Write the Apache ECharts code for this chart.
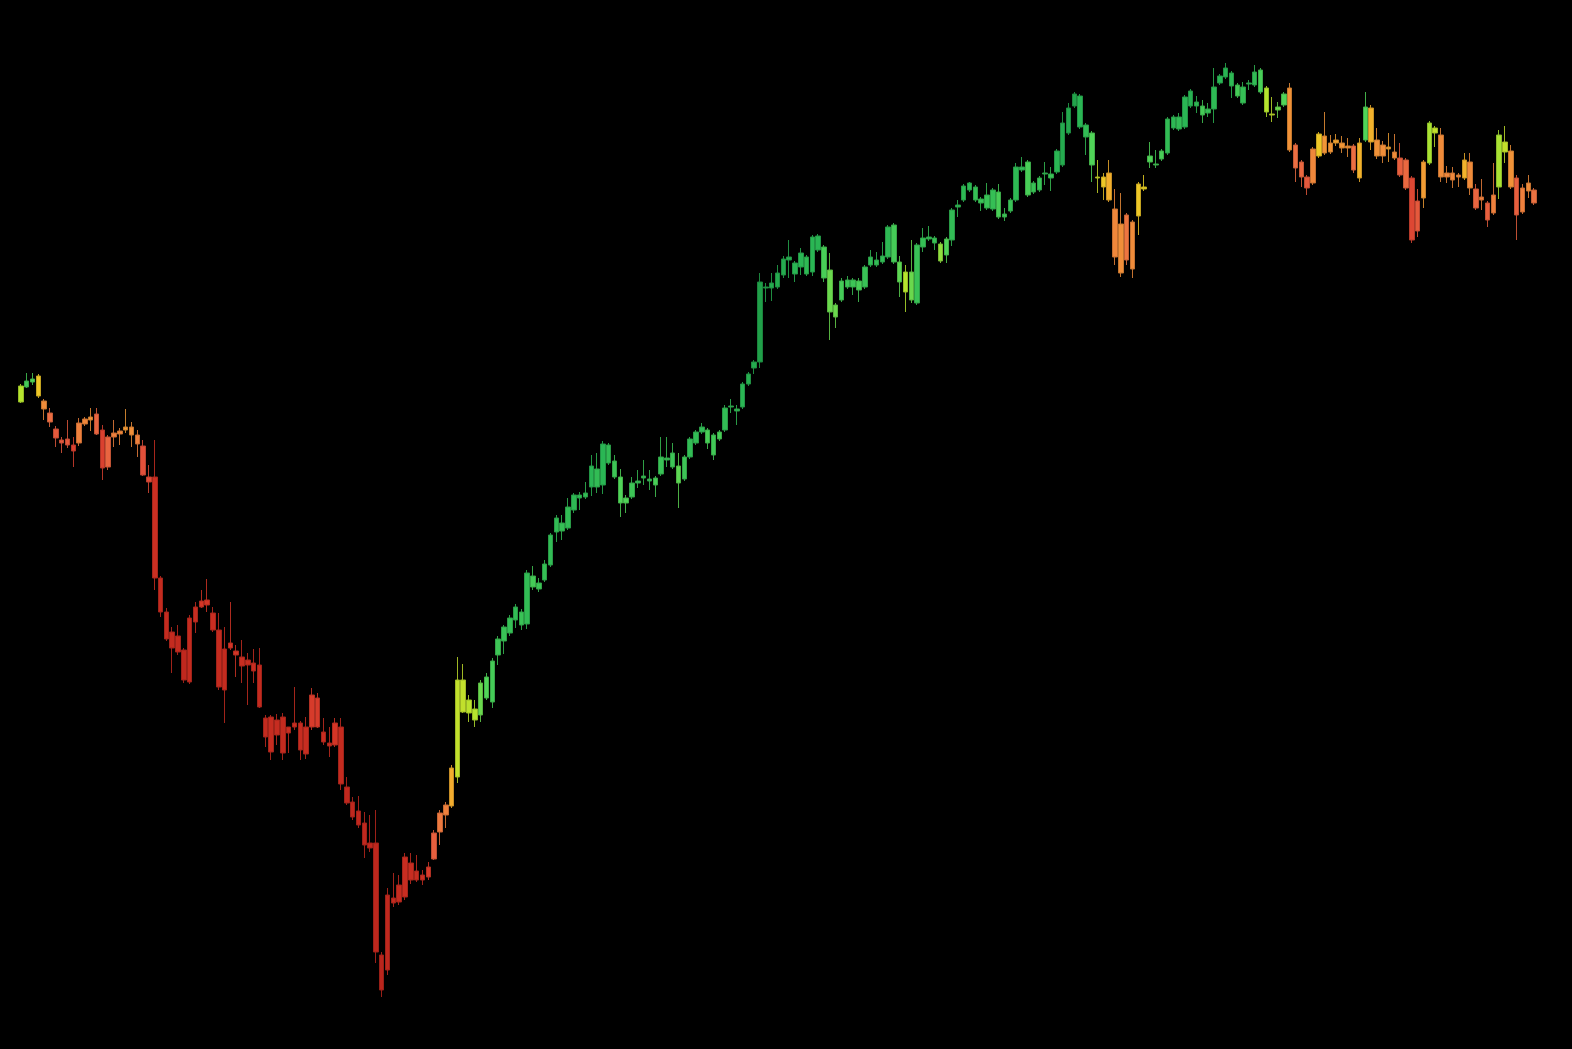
<!DOCTYPE html>
<html>
<head>
<meta charset="utf-8">
<script src="https://cdn.jsdelivr.net/npm/echarts@6/dist/echarts.min.js"></script>
<style>
html,body{margin:0;padding:0;background:#000;}
#chart{width:1572px;height:1049px;}
</style>
</head>
<body>
<div id="chart"></div>
<script>
const open = [698,713,718,724,699,687,671,660,655,655,657,676,680,686,670,633,663,666,670,673,665,654,623,623,522,488,468,448,450,418,478,493,500,487,470,410,452,449,443,435,437,435,382,348,380,383,367,373,377,346,373,402,368,357,355,373,313,298,289,277,257,257,145,130,202,198,203,237,220,225,223,241,268,285,294,323,420,400,380,385,402,398,445,459,467,480,488,476,524,517,520,535,568,577,572,590,605,603,613,631,615,655,639,623,597,603,617,622,621,622,626,640,647,634,621,643,657,668,670,665,661,670,693,691,693,716,732,738,813,812,813,825,843,837,833,843,828,850,853,830,795,800,813,820,819,813,835,840,838,843,875,838,828,828,797,853,861,862,856,845,860,893,900,910,913,901,892,891,908,886,889,900,933,938,908,910,926,926,928,935,967,994,1004,975,967,923,923,927,891,876,840,878,884,913,938,936,941,947,972,983,973,994,998,994,987,991,1017,1023,1027,1015,997,1017,1015,1030,1012,986,990,995,1012,955,938,923,917,944,964,957,957,957,954,954,922,960,992,960,955,953,948,942,940,922,869,902,937,967,965,927,927,925,922,938,911,903,897,887,913,958,949,922,888,909,910];
const close = [714,719,721,704,691,678,662,657,661,649,677,681,683,666,632,663,667,669,673,665,656,625,618,522,488,461,452,464,420,482,493,499,495,470,413,451,457,445,434,440,429,393,363,383,365,347,373,377,350,373,405,373,358,354,377,316,297,283,275,255,252,148,110,205,197,215,243,220,229,220,233,267,287,295,332,420,388,387,391,417,423,439,461,473,482,493,475,527,513,511,536,565,582,569,593,605,602,607,634,613,656,637,623,597,602,617,619,624,619,615,643,642,633,617,643,661,668,673,657,645,668,692,694,689,716,726,738,818,812,817,827,841,840,826,847,826,863,864,822,788,783,819,820,813,810,833,843,835,844,873,838,818,808,800,855,862,863,857,839,861,890,895,914,917,900,897,905,910,883,883,900,933,930,905,917,922,927,922,949,977,992,1006,973,963,935,922,913,900,843,827,885,831,916,911,944,935,949,981,983,971,1003,1009,994,985,991,1013,1024,1032,1014,1004,1013,1016,1028,1008,988,985,993,1006,950,932,923,912,951,966,947,948,960,952,952,930,957,993,958,944,944,951,942,925,912,860,899,938,977,972,923,923,920,923,940,912,892,900,880,905,965,948,913,885,912,917,897];
const low = [697,712,715,702,680,673,653,647,652,633,654,674,669,665,620,630,653,655,667,653,643,624,607,510,483,459,427,445,417,416,467,492,488,468,410,377,450,423,417,395,417,392,353,340,355,340,347,370,340,341,370,372,355,343,353,310,295,280,272,242,248,137,103,125,193,195,200,216,218,215,220,240,255,272,292,317,387,378,373,378,400,392,435,446,464,472,470,471,510,508,518,533,558,560,570,587,590,601,604,607,606,635,621,583,587,601,612,615,610,603,624,633,631,592,619,641,655,666,651,640,659,668,687,675,691,714,726,732,798,799,811,822,822,818,825,824,824,848,818,760,772,798,811,805,798,811,833,833,836,841,836,803,788,797,795,848,859,850,837,837,854,883,898,908,898,889,890,889,881,879,887,898,928,903,906,908,915,909,926,933,965,992,971,945,918,907,900,898,835,823,835,822,865,909,932,932,939,945,970,969,971,992,987,977,983,977,1015,1021,1002,1002,995,1010,1013,1006,983,978,982,993,948,918,913,905,915,942,945,946,954,947,943,927,918,958,950,941,937,938,940,923,910,857,863,892,935,953,918,917,912,913,920,905,890,890,873,885,901,937,911,860,886,902,895];
const high = [716,727,727,726,701,692,674,663,680,663,682,683,692,692,675,665,680,672,691,678,670,660,635,660,524,492,473,475,452,485,498,510,521,493,487,473,498,455,460,447,451,452,385,385,386,387,373,413,379,383,412,407,382,373,382,382,323,303,304,288,285,290,148,212,227,225,247,247,245,230,238,270,290,298,335,443,436,405,400,420,427,442,464,475,485,496,491,530,534,522,540,567,585,585,602,607,608,618,645,647,659,657,645,631,605,623,630,640,630,624,663,663,657,647,645,663,670,677,672,667,670,695,701,695,718,728,740,827,817,827,835,844,860,839,852,845,865,866,855,847,797,822,824,822,822,835,850,848,858,875,877,844,835,860,857,872,874,864,858,863,892,900,916,918,915,903,917,912,916,892,902,937,943,940,919,924,938,933,951,988,997,1008,1006,977,969,940,927,940,911,907,887,880,918,925,958,950,951,983,985,987,1005,1011,1004,1000,997,1032,1026,1037,1029,1017,1018,1020,1035,1032,1014,1003,998,1008,1017,957,940,925,953,968,988,965,966,964,962,956,962,1008,995,972,959,967,966,957,942,924,911,940,979,974,972,934,933,927,947,947,916,921,899,937,970,974,955,925,916,925,912];
const strength = [7.2,8.3,8.0,6.0,4.3,3.5,2.8,2.8,2.8,2.0,4.0,4.2,4.5,3.2,2.0,3.2,4.0,4.2,4.7,4.4,4.0,2.5,2.3,1.2,0.8,0.8,0.8,0.8,0.6,0.8,1.0,1.6,1.6,1.0,0.8,0.8,1.6,1.6,1.0,1.0,1.0,0.8,0.8,0.9,0.9,0.8,1.0,1.0,0.9,1.0,1.8,1.8,1.0,1.0,1.6,0.8,0.6,0.6,0.6,0.6,0.6,0.5,0.3,0.6,0.8,0.8,1.0,1.0,1.0,1.2,1.8,3.0,3.8,4.0,5.3,7.0,7.0,7.1,7.2,7.8,8.0,8.3,8.5,8.6,8.7,8.8,8.6,8.8,8.3,8.5,8.7,8.8,8.8,8.7,8.8,8.9,8.8,8.8,9.0,8.8,9.0,8.8,8.5,8.0,8.0,8.5,8.6,8.6,8.6,8.2,8.6,8.6,8.5,7.9,8.5,8.8,8.8,8.8,8.2,8.4,8.2,8.8,8.8,8.8,9.0,9.2,9.3,9.6,9.3,9.3,9.3,9.3,9.2,9.0,9.0,8.9,9.0,9.0,8.2,7.8,7.8,8.3,8.5,8.5,8.2,8.6,8.8,8.8,8.8,8.9,8.3,7.9,7.2,7.8,8.6,8.7,8.7,8.6,7.5,8.0,8.8,8.8,8.9,8.9,8.7,8.6,8.6,8.7,8.2,8.5,8.6,8.9,8.8,8.2,8.6,8.6,8.7,8.6,9.0,9.3,9.4,9.5,9.0,8.8,8.0,6.8,6.0,5.4,4.2,4.4,3.7,4.3,6.0,6.3,8.0,8.3,8.2,8.8,8.9,8.8,9.0,9.1,8.9,8.3,8.7,8.9,9.0,9.1,8.9,8.3,8.7,8.8,8.8,8.2,7.2,7.0,7.8,8.0,4.5,3.5,3.3,2.8,4.2,6.0,4.6,4.6,5.0,4.6,4.5,3.5,5.5,8.0,5.5,4.5,4.4,5.0,4.3,3.0,3.3,2.2,2.8,4.8,7.3,7.0,4.3,4.2,4.2,4.3,5.5,4.3,3.2,4.0,3.0,4.0,7.3,7.0,4.5,3.0,4.0,4.3,3.6];
const days = open.map((_, i) => 'D' + (i + 1));

const stops = [
  [0, [180, 34, 26]],
  [1.5, [210, 50, 36]],
  [2.5, [226, 80, 58]],
  [3.5, [236, 110, 66]],
  [4.5, [240, 146, 56]],
  [5.5, [242, 178, 44]],
  [6.3, [236, 212, 36]],
  [7.2, [182, 228, 46]],
  [8.0, [80, 212, 88]],
  [9.0, [42, 182, 84]],
  [10, [26, 146, 66]]
];
function colorFor(v, k) {
  let a = stops[0], b = stops[stops.length - 1];
  for (let i = 0; i < stops.length - 1; i++) {
    if (v >= stops[i][0] && v <= stops[i + 1][0]) { a = stops[i]; b = stops[i + 1]; break; }
  }
  const t = b[0] === a[0] ? 0 : (v - a[0]) / (b[0] - a[0]);
  const c = a[1].map((x, j) => Math.round((x + (b[1][j] - x) * t) * k));
  return 'rgb(' + c.join(',') + ')';
}

const data = open.map((o, i) => {
  const fill = colorFor(strength[i], 1);
  const edge = colorFor(strength[i], 0.82);
  return {
    value: [o, close[i], Math.min(low[i], o, close[i]), Math.max(high[i], o, close[i])],
    itemStyle: { color: fill, color0: fill, borderColor: edge, borderColor0: edge, borderWidth: 1 }
  };
});

const chart = echarts.init(document.getElementById('chart'), null, { renderer: 'canvas' });
chart.setOption({
  backgroundColor: '#000000',
  animation: false,
  grid: { left: 18, right: 35, top: 0, bottom: 0 },
  xAxis: { type: 'category', data: days, show: false, boundaryGap: true },
  yAxis: { type: 'value', min: 51, max: 1100, show: false },
  series: [{
    type: 'candlestick',
    data: data,
    barWidth: 5
  }]
});
</script>
</body>
</html>
